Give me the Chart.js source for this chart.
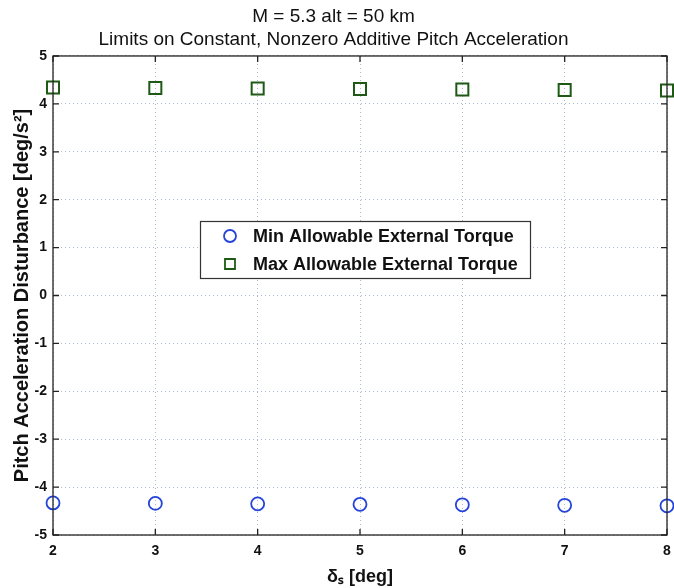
<!DOCTYPE html>
<html><head><meta charset="utf-8">
<script src="https://cdn.jsdelivr.net/npm/chart.js@4.4.1/dist/chart.umd.min.js"></script>
<style>html,body{margin:0;padding:0;background:#fff}#wrap{width:674px;height:588px}</style>
</head><body><div id="wrap"><canvas id="c" width="674" height="588"></canvas></div>
<script>
const deltaS = [2, 3, 4, 5, 6, 7, 8];
const minTorque = [-4.33, -4.34, -4.35, -4.36, -4.37, -4.38, -4.39];
const maxTorque = [4.34, 4.33, 4.32, 4.31, 4.30, 4.29, 4.28];
const yTicks = [-5, -4, -3, -2, -1, 0, 1, 2, 3, 4, 5];
const xTicks = [2, 3, 4, 5, 6, 7, 8];
const titleLines = ['M = 5.3 alt = 50 km', 'Limits on Constant, Nonzero Additive Pitch Acceleration'];
const seriesNames = ['Min Allowable External Torque', 'Max Allowable External Torque'];

const FONT = '"Liberation Sans", Arial, sans-serif';
const BLUE = '#2444d8';
const GREEN = '#1e5a16';

const framePlugin = {
  id: 'frame',
  afterDatasetsDraw(chart) {
    const {ctx, chartArea: a} = chart;
    ctx.save();
    ctx.strokeStyle = '#222';
    ctx.lineWidth = 1.3;
    ctx.strokeRect(a.left, a.top, a.right - a.left, a.bottom - a.top);
    const xs = chart.scales.x, ys = chart.scales.y;
    ctx.beginPath();
    xTicks.forEach(v => { const px = xs.getPixelForValue(v);
      ctx.moveTo(px, a.bottom); ctx.lineTo(px, a.bottom - 6);
      ctx.moveTo(px, a.top); ctx.lineTo(px, a.top + 6); });
    yTicks.forEach(v => { const py = ys.getPixelForValue(v);
      ctx.moveTo(a.left, py); ctx.lineTo(a.left + 6, py);
      ctx.moveTo(a.right, py); ctx.lineTo(a.right - 6, py); });
    ctx.stroke();
    ctx.restore();
  },
  afterDraw(chart) {
    const {ctx} = chart;
    const bx = 200, by = 221, bw = 330, bh = 57;
    ctx.save();
    ctx.fillStyle = '#fff';
    ctx.fillRect(bx, by, bw, bh);
    ctx.strokeStyle = '#333';
    ctx.lineWidth = 1.2;
    ctx.strokeRect(bx + 0.5, by + 0.5, bw, bh);
    ctx.font = 'bold 18px ' + FONT;
    ctx.textBaseline = 'middle';
    ctx.fillStyle = '#111';
    chart.data.datasets.forEach((ds, i) => {
      const cy = by + 15 + i * 28;
      ctx.lineWidth = 1.8;
      ctx.strokeStyle = ds.borderColor;
      ctx.beginPath();
      if (ds.pointStyle === 'circle') {
        ctx.arc(bx + 30, cy, 6, 0, Math.PI * 2);
      } else {
        ctx.rect(bx + 25, cy - 5, 10, 10);
      }
      ctx.stroke();
      ctx.fillText(ds.label, bx + 53, cy + 1);
    });
    ctx.restore();
  }
};

new Chart(document.getElementById('c'), {
  type: 'scatter',
  data: {
    datasets: [
      { label: seriesNames[0], data: deltaS.map((x, i) => ({x, y: minTorque[i]})),
        pointStyle: 'circle', pointRadius: 6.5, borderColor: BLUE, backgroundColor: 'rgba(0,0,0,0)', borderWidth: 1.8, clip: 10 },
      { label: seriesNames[1], data: deltaS.map((x, i) => ({x, y: maxTorque[i]})),
        pointStyle: 'rect', pointRadius: 8.5, borderColor: GREEN, backgroundColor: 'rgba(0,0,0,0)', borderWidth: 2, clip: 10 }
    ]
  },
  options: {
    responsive: false,
    animation: false,
    devicePixelRatio: 1,
    layout: { autoPadding: false, padding: { left: 0, right: 7, top: 0, bottom: 0 } },
    plugins: {
      legend: { display: false },
      tooltip: { enabled: false },
      title: { display: true, text: titleLines, color: '#111',
        font: { family: FONT, size: 19, weight: 'normal', lineHeight: 1.21 },
        padding: { top: 5, bottom: 5 } }
    },
    scales: {
      x: {
        type: 'linear', min: 2, max: 8,
        afterBuildTicks(s) { s.ticks = xTicks.map(v => ({value: v})); },
        afterFit(s) { s.height = 53; s.paddingRight = 0; s.paddingLeft = 0; },
        grid: { color: '#a9b8d0', lineWidth: 1, drawTicks: false },
        border: { display: false, dash: [1, 3] },
        ticks: { color: '#111', padding: 8, font: { family: FONT, size: 14, weight: 'bold' } },
        title: { display: true, text: 'δₛ [deg]', color: '#111', padding: { top: 1, bottom: 0 },
          font: { family: FONT, size: 18, weight: 'bold' } }
      },
      y: {
        min: -5, max: 5,
        afterBuildTicks(s) { s.ticks = yTicks.map(v => ({value: v})); },
        afterFit(s) { s.width = 53; s.paddingTop = 0; s.paddingBottom = 0; },
        grid: { color: '#a9b8d0', lineWidth: 1, drawTicks: false },
        border: { display: false, dash: [1, 3] },
        ticks: { color: '#111', padding: 6, font: { family: FONT, size: 14, weight: 'bold' } },
        title: { display: true, text: 'Pitch Acceleration Disturbance [deg/s²]', color: '#111', padding: { top: 10, bottom: 0 },
          font: { family: FONT, size: 20, weight: 'bold' } }
      }
    }
  },
  plugins: [framePlugin]
});
</script></body></html>
